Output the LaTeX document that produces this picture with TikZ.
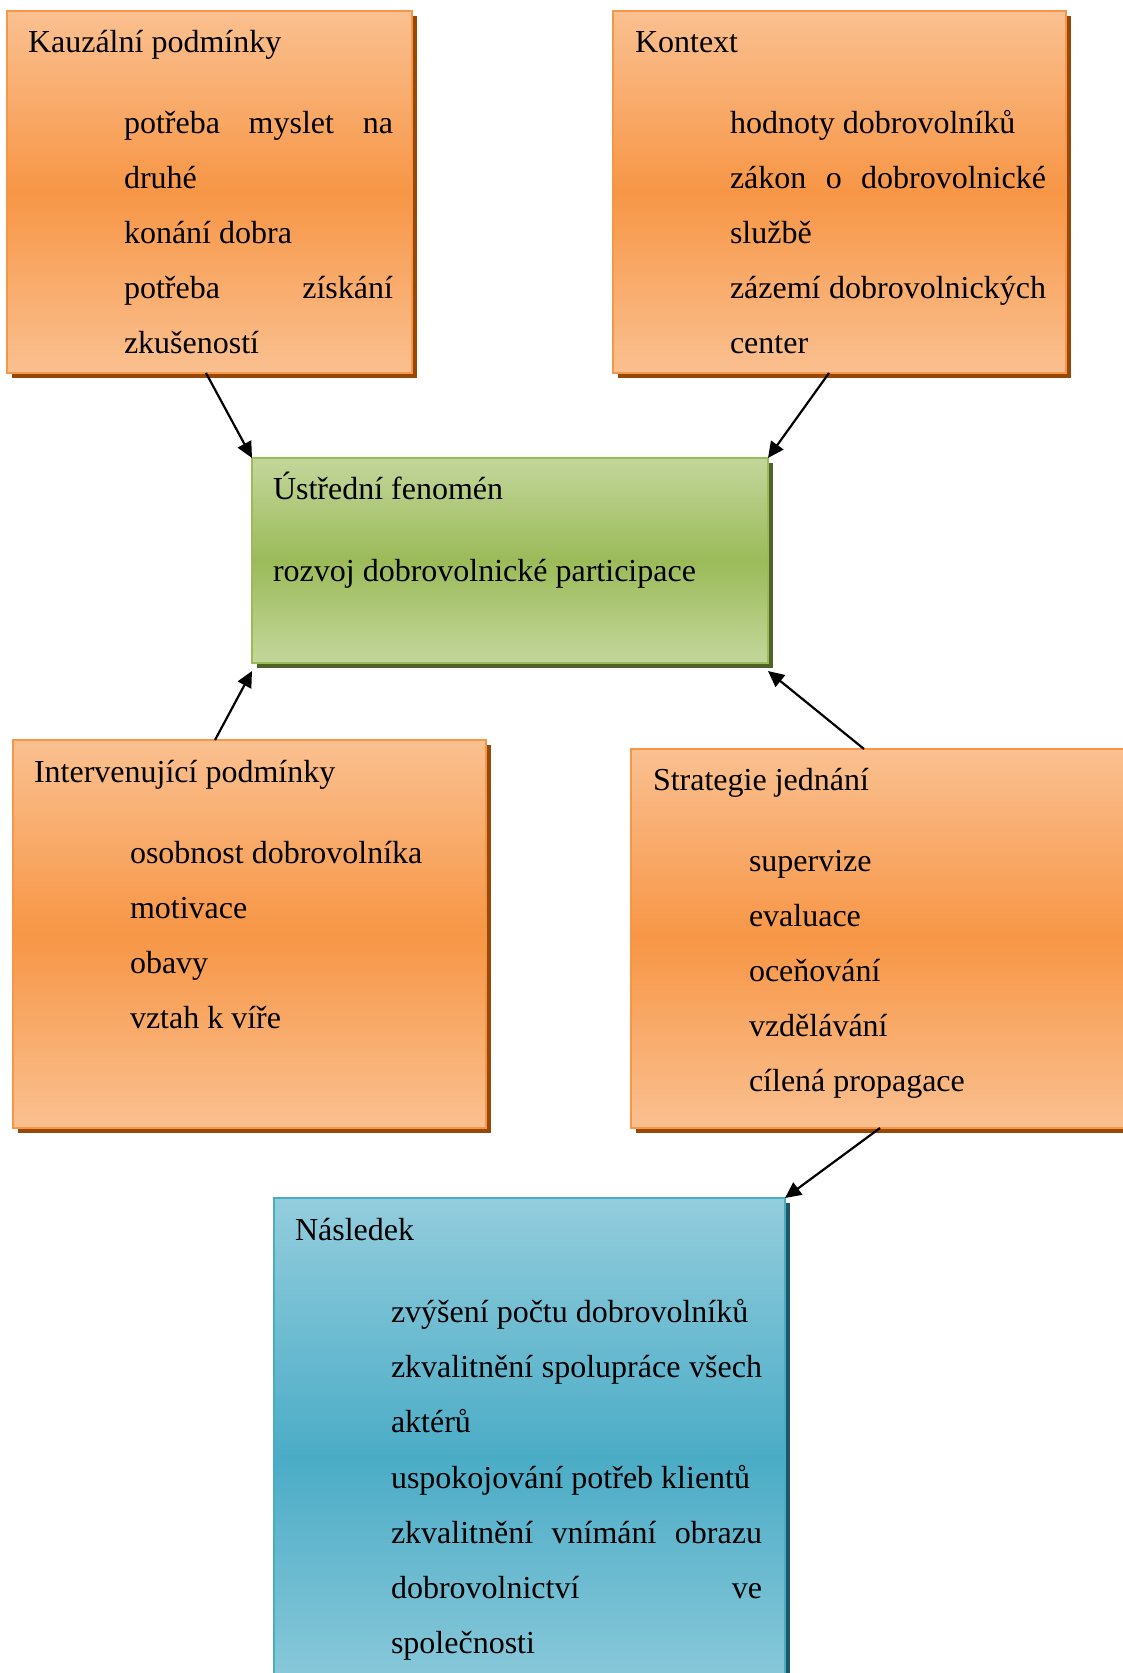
\documentclass[tikz,border=0pt]{standalone}
\usepackage{fontspec}
\setmainfont{Liberation Serif}
\usetikzlibrary{arrows.meta,calc,shadows}
\definecolor{olight}{HTML}{FAC090}
\definecolor{odark}{HTML}{F79646}
\definecolor{oshad}{HTML}{974806}
\definecolor{glight}{HTML}{C3D69B}
\definecolor{gdark}{HTML}{9BBB59}
\definecolor{gshad}{HTML}{4F6228}
\definecolor{blight}{HTML}{93CDDD}
\definecolor{bdark}{HTML}{4BACC6}
\definecolor{bshad}{HTML}{205867}
\tikzset{
  box/.style={rectangle, anchor=north west, inner sep=0pt, outer sep=0pt, line width=2pt},
  obox/.style={box, draw=odark, top color=olight, bottom color=olight, middle color=odark,
     drop shadow={shadow xshift=4.5pt, shadow yshift=-4.5pt, fill=oshad, opacity=1}},
  gbox/.style={box, draw=gdark, top color=glight, bottom color=glight, middle color=gdark,
     drop shadow={shadow xshift=4.5pt, shadow yshift=-4.5pt, fill=gshad, opacity=1}},
  bbox/.style={box, draw=bdark, top color=blight, bottom color=blight, middle color=bdark,
     drop shadow={shadow xshift=4.5pt, shadow yshift=-4.5pt, fill=bshad, opacity=1}},
  txt/.style={anchor=base west, inner sep=0pt, outer sep=0pt, font=\fontsize{32pt}{38pt}\selectfont},
  conn/.style={line width=2.2pt, -{Triangle[length=16pt,width=15pt]}}
}
\begin{document}
\begin{tikzpicture}[x=1pt,y=-1pt]
\useasboundingbox (0,0) rectangle (1123,1673);
\clip (0,0) rectangle (1123,1673);
% boxes
\node[obox, minimum width=405pt, minimum height=362pt] (k) at (7,11) {};
\node[obox, minimum width=453pt, minimum height=362pt] (ctx) at (613,11) {};
\node[gbox, minimum width=516pt, minimum height=205pt] (c) at (252,458) {};
\node[obox, minimum width=473pt, minimum height=388pt] (i) at (13,740) {};
\node[obox, minimum width=520pt, minimum height=379pt] (s) at (631,749) {};
\node[bbox, minimum width=511pt, minimum height=520pt] (n) at (274,1198) {};
% Kauzalni podminky
\node[txt] (k0) at (28,52) {Kauzální podmínky};
\node[txt] (k1) at (124,133) {\makebox[269pt][s]{potřeba myslet na}};
\node[txt] (k2) at (124,188) {druhé};
\node[txt] (k3) at (124,243) {konání dobra};
\node[txt] (k4) at (124,298) {\makebox[269pt][s]{potřeba získání}};
\node[txt] (k5) at (124,353) {zkušeností};
% Kontext
\node[txt] (x0) at (635,52) {Kontext};
\node[txt] (x1) at (730,133) {hodnoty dobrovolníků};
\node[txt] (x2) at (730,188) {\makebox[316pt][s]{zákon o dobrovolnické}};
\node[txt] (x3) at (730,243) {službě};
\node[txt] (x4) at (730,298) {\makebox[316pt][s]{zázemí dobrovolnických}};
\node[txt] (x5) at (730,353) {center};
% Ustredni fenomen
\node[txt] (c0) at (273,499) {Ústřední fenomén};
\node[txt] (c1) at (273,581) {rozvoj dobrovolnické participace};
% Intervenujici
\node[txt] (i0) at (34,782) {Intervenující podmínky};
\node[txt] (i1) at (130,863) {osobnost dobrovolníka};
\node[txt] (i2) at (130,918) {motivace};
\node[txt] (i3) at (130,973) {obavy};
\node[txt] (i4) at (130,1028) {vztah k víře};
% Strategie
\node[txt] (s0) at (653,790) {Strategie jednání};
\node[txt] (s1) at (749,871) {supervize};
\node[txt] (s2) at (749,926) {evaluace};
\node[txt] (s3) at (749,981) {oceňování};
\node[txt] (s4) at (749,1036) {vzdělávání};
\node[txt] (s5) at (749,1091) {cílená propagace};
% Nasledek
\node[txt] (n0) at (295,1240) {Následek};
\node[txt] (n1) at (391,1322) {zvýšení počtu dobrovolníků};
\node[txt] (n2) at (391,1377) {\makebox[371pt][s]{zkvalitnění spolupráce všech}};
\node[txt] (n3) at (391,1432) {aktérů};
\node[txt] (n4) at (391,1488) {uspokojování potřeb klientů};
\node[txt] (n5) at (391,1543) {\makebox[371pt][s]{zkvalitnění vnímání obrazu}};
\node[txt] (n6) at (391,1598) {\makebox[371pt][s]{dobrovolnictví ve}};
\node[txt] (n7) at (391,1653) {společnosti};
% connectors
\draw[conn] ([xshift=199pt]k.south west) -- (c.north west);
\draw[conn] ([xshift=216pt]ctx.south west) -- (c.north east);
\draw[conn] ([xshift=202pt]i.north west) -- ([yshift=-8pt]c.south west);
\draw[conn] ([xshift=233pt]s.north west) -- ([yshift=-8pt]c.south east);
\draw[conn] ([xshift=249pt]s.south west) -- (n.north east);
\end{tikzpicture}
\end{document}
